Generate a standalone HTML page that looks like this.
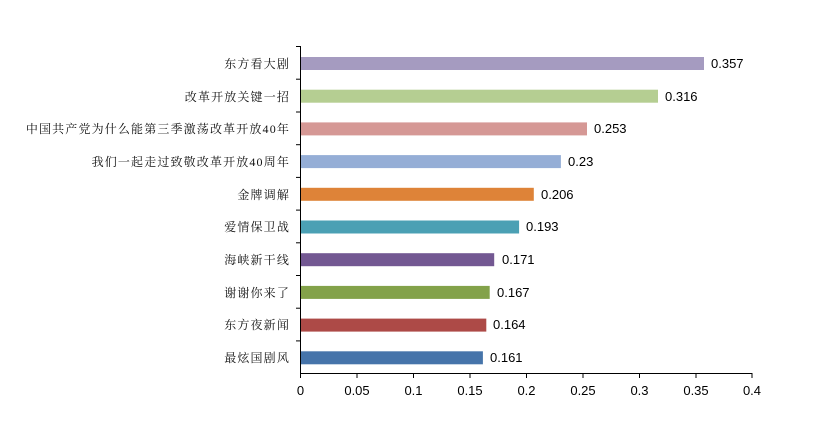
<!DOCTYPE html>
<html><head><meta charset="utf-8"><style>
body{margin:0;background:#fff;}
svg text{font-family:"Liberation Sans",Arial,sans-serif;font-size:13px;fill:#000;}
.c{font-family:"Liberation Serif","Noto Serif CJK SC",serif;font-size:12px;letter-spacing:1.15px;fill:#111;}
</style></head><body>
<svg width="821" height="428" viewBox="0 0 821 428" xmlns="http://www.w3.org/2000/svg">
<line x1="300.5" y1="46" x2="300.5" y2="373.5" stroke="#000" stroke-width="1"/>
<line x1="300" y1="373.5" x2="752" y2="373.5" stroke="#000" stroke-width="1"/>
<g stroke="#000">
<line x1="296" y1="46.5" x2="300" y2="46.5"/><line x1="296" y1="79.2" x2="300" y2="79.2"/><line x1="296" y1="112" x2="300" y2="112"/><line x1="296" y1="144.7" x2="300" y2="144.7"/><line x1="296" y1="177.4" x2="300" y2="177.4"/><line x1="296" y1="210.1" x2="300" y2="210.1"/><line x1="296" y1="242.8" x2="300" y2="242.8"/><line x1="296" y1="275.5" x2="300" y2="275.5"/><line x1="296" y1="308.2" x2="300" y2="308.2"/><line x1="296" y1="340.9" x2="300" y2="340.9"/>
<line x1="300.5" y1="373" x2="300.5" y2="378"/><line x1="357" y1="373" x2="357" y2="378"/><line x1="413.5" y1="373" x2="413.5" y2="378"/><line x1="470" y1="373" x2="470" y2="378"/><line x1="526.5" y1="373" x2="526.5" y2="378"/><line x1="583" y1="373" x2="583" y2="378"/><line x1="639.5" y1="373" x2="639.5" y2="378"/><line x1="696" y1="373" x2="696" y2="378"/><line x1="752" y1="373" x2="752" y2="378"/>
</g>
<g text-anchor="middle">
<text x="300.5" y="395">0</text><text x="357" y="395">0.05</text><text x="413.5" y="395">0.1</text><text x="470" y="395">0.15</text><text x="526.5" y="395">0.2</text><text x="583" y="395">0.25</text><text x="639.5" y="395">0.3</text><text x="696" y="395">0.35</text><text x="752" y="395">0.4</text>
</g>
<g>
<rect x="301" y="57" width="403" height="13" fill="#A59BC0"/>
<rect x="301" y="89.7" width="357" height="13" fill="#B5CE92"/>
<rect x="301" y="122.4" width="286" height="13" fill="#D59895"/>
<rect x="301" y="155.1" width="259.9" height="13" fill="#95AED6"/>
<rect x="301" y="187.8" width="232.8" height="13" fill="#DE8338"/>
<rect x="301" y="220.5" width="218.1" height="13" fill="#4BA0B4"/>
<rect x="301" y="253.2" width="193.2" height="13" fill="#735892"/>
<rect x="301" y="285.9" width="188.7" height="13" fill="#83A24A"/>
<rect x="301" y="318.6" width="185.3" height="13" fill="#AD4A47"/>
<rect x="301" y="351.3" width="181.9" height="13" fill="#4674AA"/>
</g>
<g>
<text x="711" y="68">0.357</text><text x="665" y="101">0.316</text><text x="594" y="133">0.253</text><text x="568" y="166">0.23</text><text x="541" y="199">0.206</text><text x="526" y="231">0.193</text><text x="502" y="264">0.171</text><text x="497" y="297">0.167</text><text x="493" y="329">0.164</text><text x="490" y="362">0.161</text>
</g>
<g text-anchor="end">
<text class="c" x="290" y="68">东方看大剧</text>
<text class="c" x="290" y="101">改革开放关键一招</text>
<text class="c" x="290" y="133">中国共产党为什么能第三季激荡改革开放40年</text>
<text class="c" x="290" y="166">我们一起走过致敬改革开放40周年</text>
<text class="c" x="290" y="199">金牌调解</text>
<text class="c" x="290" y="231">爱情保卫战</text>
<text class="c" x="290" y="264">海峡新干线</text>
<text class="c" x="290" y="297">谢谢你来了</text>
<text class="c" x="290" y="329">东方夜新闻</text>
<text class="c" x="290" y="362">最炫国剧风</text>
</g>
</svg>
</body></html>
